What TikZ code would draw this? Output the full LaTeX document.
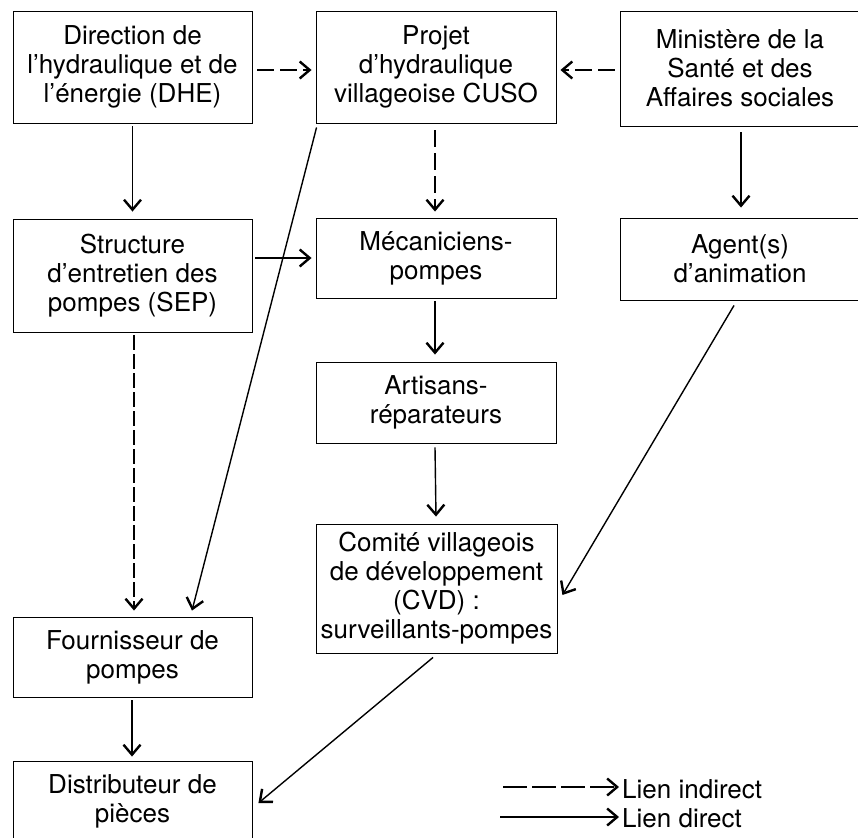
\documentclass[tikz,border=0pt]{standalone}
\usepackage{fontspec}
\setmainfont{TeX Gyre Heros}
\usetikzlibrary{arrows.meta,calc}
\tikzset{
  box/.style={draw, line width=0.9pt, inner sep=0pt, align=center,
    font=\fontsize{26}{29}\selectfont},
  conn/.style={line width=1.4pt, -{Straight Barb[length=10pt,width=17pt,line width=2.4pt]}},
  indirect/.style={conn, dash pattern=on 17pt off 6pt},
  legendtext/.style={anchor=west, inner sep=0pt, font=\fontsize{26}{28}\selectfont}
}
\begin{document}
\begin{tikzpicture}[x=1pt,y=-1pt]
\useasboundingbox (0,0) rectangle (858,837);
\clip (0,0) rectangle (858,837);
% boxes
\node[box, minimum width=239pt, minimum height=112pt] (dhe) at (132.5,67) {Direction de\\l’hydraulique et de\\l’énergie (DHE)};
\node[box, minimum width=240pt, minimum height=112pt] (cuso) at (436,67) {Projet\\d’hydraulique\\villageoise CUSO};
\node[box, minimum width=240pt, minimum height=115pt] (min) at (740,68.5) {Ministère de la\\Santé et des\\Affaires sociales};
\node[box, minimum width=239pt, minimum height=113pt] (sep) at (132.5,275.5) {Structure\\d’entretien des\\pompes (SEP)};
\node[box, minimum width=240pt, minimum height=80pt] (meca) at (436,258) {Mécaniciens-\\pompes};
\node[box, minimum width=240pt, minimum height=82pt] (agent) at (740,259) {Agent(s)\\d’animation};
\node[box, minimum width=240pt, minimum height=81pt] (art) at (436,402.5) {Artisans-\\réparateurs};
\node[box, minimum width=241pt, minimum height=129pt] (cvd) at (436.5,588.5) {Comité villageois\\de développement\\(CVD) :\\surveillants-pompes};
\node[box, minimum width=239pt, minimum height=80pt] (four) at (132.5,657) {Fournisseur de\\pompes};
\node[box, minimum width=239pt, minimum height=80pt] (distr) at (132.5,801) {Distributeur de\\pièces};
% connectors
\draw[indirect] ($(dhe.east)+(5,3)$) -- ($(cuso.west)+(-4,3)$);
\draw[indirect] ($(min.west)+(-5,1.5)$) -- ($(cuso.east)+(4,3)$);
\draw[conn] ($(dhe.south)+(0,3)$) -- ($(sep.north)+(0,-7)$);
\draw[indirect] ($(cuso.south)+(-1,7)$) -- ($(meca.north)+(-1,-6)$);
\draw[conn] ($(min.south)+(1,6)$) -- ($(agent.north)+(1,-10)$);
\draw[conn] ($(sep.east)+(3,-17.5)$) -- ($(meca.west)+(-4,0)$);
\draw[conn] ($(meca.south)+(-1,3)$) -- ($(art.north)+(-1,-7)$);
\draw[conn] ($(art.south)+(-1,4)$) -- ($(cvd.north)+(-0.5,-7)$);
\draw[indirect, dash pattern=on 15pt off 4pt] ($(sep.south)+(1.5,3)$) -- ($(four.north)+(1.5,-6)$);
\draw[conn] ($(four.south)+(-0.5,3)$) -- ($(distr.north)+(-0.5,-4)$);
\draw[conn] ($(cuso.south west)+(1,4)$) -- ($(four.north)+(59.5,-6)$);
\draw[conn] ($(agent.south)+(-6,5)$) -- ($(cvd.east)+(5,6.5)$);
\draw[conn] ($(cvd.south)+(-3.5,4)$) -- ($(distr.east)+(6,2)$);
% legend
\coordinate (l1a) at (503,787);
\coordinate (l1b) at (619,787);
\coordinate (l2a) at (500,817);
\coordinate (l2b) at (619,817);
\node[legendtext] (t1) at (622,789) {Lien indirect};
\node[legendtext] (t2) at (622,818) {Lien direct};
\draw[indirect, dash pattern=on 24pt off 5pt] (l1a) -- (l1b);
\draw[conn] (l2a) -- (l2b);
\end{tikzpicture}
\end{document}
